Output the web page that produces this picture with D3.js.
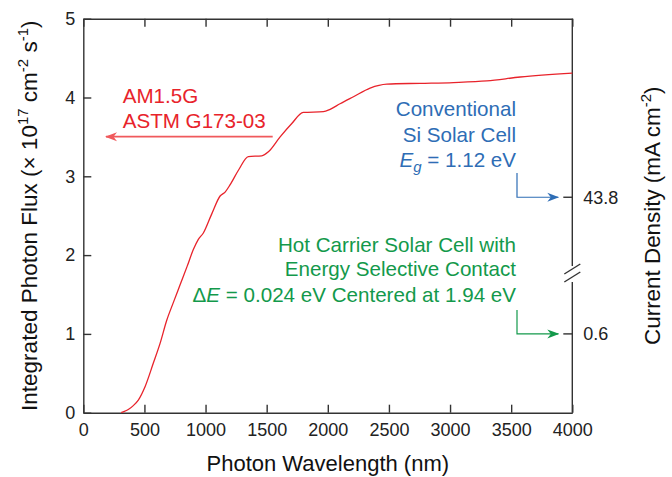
<!DOCTYPE html>
<html>
<head>
  <meta charset="utf-8">
  <script src="https://d3js.org/d3.v7.min.js"></script>
  <style>
    html, body { margin: 0; padding: 0; background: #fff; }
    svg text { font-family: "Liberation Sans", Arial, Helvetica, sans-serif; }
  </style>
</head>
<body>
<div id="chart"></div>
<script>
    // AM1.5G integrated photon flux
    var wavelength = [310, 327, 368, 409, 450, 505, 573, 628, 682, 737, 791, 850, 900, 941, 982,
                      1050, 1119, 1160, 1200, 1270, 1350, 1460, 1514, 1610, 1700, 1800, 1964, 2019,
                      2100, 2210, 2346, 2483, 2755, 3028, 3301, 3574, 4000];
    var flux = [0, 0.01, 0.04, 0.09, 0.16, 0.33, 0.63, 0.88, 1.17, 1.40, 1.62, 1.86, 2.07, 2.20, 2.28,
                2.52, 2.75, 2.80, 2.89, 3.08, 3.25, 3.26, 3.31, 3.50, 3.66, 3.81, 3.82, 3.85,
                3.92, 4.01, 4.12, 4.17, 4.18, 4.19, 4.21, 4.26, 4.31];

    var xTicks = d3.range(0, 4001, 500);
    var yTicks = [0, 1, 2, 3, 4, 5];
    // right axis (broken): current density in mA cm^-2
    var rightTicks = [43.8, 0.6];
    var rightLabels = ["43.8", "0.6"];

    var width = 672, height = 477;
    var axisColor = "#333", red = "#e8232b", blue = "#2e6db5", green = "#13994b";

    var svg = d3.select("#chart").append("svg")
        .attr("width", width).attr("height", height);

    var x = d3.scaleLinear().domain([0, 4000]).range([83.3, 572.3]);
    var y = d3.scaleLinear().domain([0, 5]).range([412.7, 18.7]);
    // flux -> current density is q * flux (16.02 mA cm^-2 per 1e17 cm^-2 s^-1), lower part of the axis is broken
    var yRight = d3.scaleLinear().domain([0, 0.6, 43.8, 80.1]).range([y(0), y(1), y(43.8 / 16.02), y(5)]);

    // axes
    var bottomAxis = svg.append("g").attr("transform", "translate(0," + y(0) + ")")
        .call(d3.axisBottom(x).tickValues(xTicks).tickFormat(d3.format("d"))
            .tickSizeInner(-8).tickSizeOuter(0).tickPadding(11));
    var topAxis = svg.append("g").attr("transform", "translate(0," + y(5) + ")")
        .call(d3.axisTop(x).tickValues(xTicks).tickSizeInner(-8).tickSizeOuter(0).tickFormat(""));
    var leftAxis = svg.append("g").attr("transform", "translate(" + x(0) + ",0)")
        .call(d3.axisLeft(y).tickValues(yTicks).tickFormat(d3.format("d"))
            .tickSizeInner(-8).tickSizeOuter(0).tickPadding(8));

    [bottomAxis, topAxis, leftAxis].forEach(function(g) {
        g.selectAll("path, line").attr("stroke", axisColor).attr("stroke-width", 1.4);
        g.selectAll("text").attr("fill", "#222").style("font-size", "18px")
            .style("font-family", '"Liberation Sans", Arial, sans-serif');
    });

    // right axis with a break
    var rightAxis = svg.append("g").attr("transform", "translate(" + x(4000) + ",0)");
    var breakY = 273;
    rightAxis.append("line").attr("y1", y(5)).attr("y2", breakY - 7)
        .attr("stroke", axisColor).attr("stroke-width", 1.4);
    rightAxis.append("line").attr("y1", breakY + 9).attr("y2", y(0))
        .attr("stroke", axisColor).attr("stroke-width", 1.4);
    [-4, 4].forEach(function(d) {
        rightAxis.append("line")
            .attr("x1", -8).attr("y1", breakY + d + 5)
            .attr("x2", 8).attr("y2", breakY + d - 5)
            .attr("stroke", axisColor).attr("stroke-width", 1.4);
    });
    rightTicks.forEach(function(v, i) {
        rightAxis.append("line").attr("x1", -9).attr("x2", 0)
            .attr("y1", yRight(v)).attr("y2", yRight(v))
            .attr("stroke", axisColor).attr("stroke-width", 1.4);
        rightAxis.append("text").attr("x", 11).attr("y", yRight(v)).attr("dy", "0.35em")
            .attr("fill", "#222").style("font-size", "18px").text(rightLabels[i]);
    });

    // the curve
    var line = d3.line()
        .x(function(d, i) { return x(wavelength[i]); })
        .y(function(d) { return y(d); })
        .curve(d3.curveMonotoneX);
    svg.append("path").datum(flux)
        .attr("d", line).attr("fill", "none")
        .attr("stroke", red).attr("stroke-width", 1.3);

    // axis titles
    svg.append("text").attr("x", (x(0) + x(4000)) / 2).attr("y", 471)
        .attr("text-anchor", "middle").attr("fill", "#111").style("font-size", "22px")
        .text("Photon Wavelength (nm)");

    var yt = svg.append("text")
        .attr("transform", "translate(37," + (y(0) + y(5)) / 2 + ") rotate(-90)")
        .attr("text-anchor", "middle").attr("fill", "#111").style("font-size", "22.5px");
    yt.append("tspan").text("Integrated Photon Flux (\u00d7 10");
    yt.append("tspan").attr("dy", -9).style("font-size", "15px").text("17");
    yt.append("tspan").attr("dy", 9).text(" cm");
    yt.append("tspan").attr("dy", -9).style("font-size", "15px").text("-2");
    yt.append("tspan").attr("dy", 9).text(" s");
    yt.append("tspan").attr("dy", -9).style("font-size", "15px").text("-1");
    yt.append("tspan").attr("dy", 9).text(")");

    var rt = svg.append("text")
        .attr("transform", "translate(660," + (y(0) + y(5)) / 2 + ") rotate(-90)")
        .attr("text-anchor", "middle").attr("fill", "#111").style("font-size", "22.4px");
    rt.append("tspan").text("Current Density (mA cm");
    rt.append("tspan").attr("dy", -9).style("font-size", "15px").text("-2");
    rt.append("tspan").attr("dy", 9).text(")");

    // arrow heads
    var defs = svg.append("defs");
    [["red", "#f0595c"], ["blue", blue], ["green", green]].forEach(function(m) {
        defs.append("marker").attr("id", "head-" + m[0])
            .attr("viewBox", "0 -5 12 10").attr("refX", 11).attr("refY", 0)
            .attr("markerWidth", 12).attr("markerHeight", 10).attr("markerUnits", "userSpaceOnUse")
            .attr("orient", "auto")
            .append("path").attr("d", "M0,-4.5L12,0L0,4.5L3.5,0Z").attr("fill", m[1]);
    });

    // AM1.5G annotation
    svg.append("text").attr("x", 122.7).attr("y", 103).attr("fill", red)
        .style("font-size", "20.6px").text("AM1.5G");
    svg.append("text").attr("x", 122.7).attr("y", 128.3).attr("fill", red)
        .style("font-size", "20.6px").text("ASTM G173-03");
    svg.append("line").attr("x1", 272.7).attr("x2", 106).attr("y1", 136.7).attr("y2", 136.7)
        .attr("stroke", "#f0595c").attr("stroke-width", 1.8).attr("marker-end", "url(#head-red)");

    // conventional Si cell
    var textX = 516;
    var bt = svg.append("g").attr("fill", blue).style("font-size", "20.6px").attr("text-anchor", "end");
    bt.append("text").attr("x", textX).attr("y", 116).text("Conventional");
    bt.append("text").attr("x", textX).attr("y", 141.7).text("Si Solar Cell");
    var eg = bt.append("text").attr("x", textX).attr("y", 166.7);
    eg.append("tspan").style("font-style", "italic").text("E");
    eg.append("tspan").attr("dy", 5).style("font-style", "italic").style("font-size", "15px").text("g");
    eg.append("tspan").attr("dy", -5).text(" = 1.12 eV");

    // hot carrier cell
    var gt = svg.append("g").attr("fill", green).style("font-size", "20.6px").attr("text-anchor", "end");
    gt.append("text").attr("x", textX).attr("y", 251.7).text("Hot Carrier Solar Cell with");
    gt.append("text").attr("x", textX).attr("y", 276.3).text("Energy Selective Contact");
    var de = gt.append("text").attr("x", textX).attr("y", 301.7);
    de.append("tspan").text("\u0394");
    de.append("tspan").style("font-style", "italic").text("E");
    de.append("tspan").text(" = 0.024 eV Centered at 1.94 eV");

    // elbow arrows to the right axis
    [[yRight(43.8), 173, blue, "blue"], [yRight(0.6), 310, green, "green"]].forEach(function(a) {
        svg.append("path")
            .attr("d", "M" + (textX + 1) + "," + a[1] + "V" + a[0] + "H" + (x(4000) - 14))
            .attr("fill", "none").attr("stroke", a[2]).attr("stroke-width", 1.2)
            .attr("marker-end", "url(#head-" + a[3] + ")");
    });
</script>
</body>
</html>
